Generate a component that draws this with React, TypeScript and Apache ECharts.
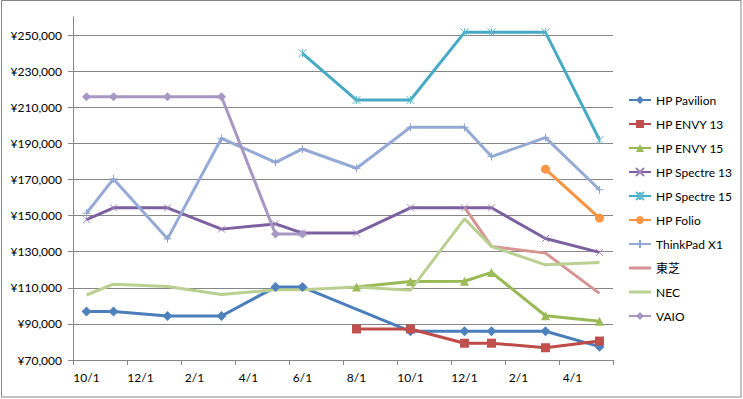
import React, { useEffect, useRef } from "react";
import * as echarts from "echarts";

const months = [
  "10/1", "11/1", "12/1", "1/1", "2/1", "3/1", "4/1", "5/1", "6/1", "7/1",
  "8/1", "9/1", "10/1", "11/1", "12/1", "1/1", "2/1", "3/1", "4/1", "5/1",
];
const yTicks = [70000, 250000, 20000];

const hpPavilion = [96800, 96800, null, 94400, null, 94400, null, 110400, 110400, null, null, null, 85900, null, 85900, 85900, null, 85900, null, 77400];
const hpEnvy13 = [null, null, null, null, null, null, null, null, null, null, 87200, null, 87200, null, 79300, 79300, null, 76800, null, 80500];
const hpEnvy15 = [null, null, null, null, null, null, null, null, null, null, 110500, null, 113500, null, 113600, 118500, null, 94500, null, 91500];
const hpSpectre13 = [147700, 154300, null, 154300, null, 142500, null, 145400, 140300, null, 140300, null, 154300, null, 154300, 154300, null, 137300, null, 129600];
const hpSpectre15 = [null, null, null, null, null, null, null, null, 239900, null, 214000, null, 214000, null, 251500, 251500, null, 251500, null, 191900];
const hpFolio = [null, null, null, null, null, null, null, null, null, null, null, null, null, null, null, null, null, 175700, null, 148600];
const thinkPadX1 = [151300, 170300, null, 137100, null, 192800, null, 179500, 186900, null, 176200, null, 198900, null, 198900, 182700, null, 193200, null, 164300];
const toshiba = [null, null, null, null, null, null, null, null, null, null, null, null, null, null, 154600, 132900, null, 129200, null, 106900];
const nec = [106000, 112000, null, 110700, null, 106300, null, 108900, 108900, null, 110400, null, 108700, null, 148200, 132900, null, 122700, null, 124000];
const vaio = [215800, 215800, null, 215800, null, 215800, null, 139800, 139800, null, null, null, null, null, null, null, null, null, null, null];

const seriesNames = ["HP Pavilion", "HP ENVY 13", "HP ENVY 15", "HP Spectre 13", "HP Spectre 15", "HP Folio", "ThinkPad X1", "東芝", "NEC", "VAIO"];
const seriesData = [hpPavilion, hpEnvy13, hpEnvy15, hpSpectre13, hpSpectre15, hpFolio, thinkPadX1, toshiba, nec, vaio];

const FONT = "Lato, 'Noto Sans CJK JP', sans-serif";
const GRID_COLOR = "#868686";

const X_PATH = "path://M0,0L10,10M10,0L0,10";
const STAR_PATH = "path://M0,0L10,10M10,0L0,10M5,0L5,10";
const PLUS_PATH = "path://M5,0L5,10M0,5L10,5";
const LINE_ICON = "path://M0,0L22,0L22,3L0,3Z";

const styles = [
  { line: "#4A7EBB", marker: "#4F81BD", symbol: "diamond", size: 10, stroke: false },
  { line: "#BE4B48", marker: "#C0504D", symbol: "rect", size: 9, stroke: false },
  { line: "#98B954", marker: "#9BBB59", symbol: "triangle", size: 9, stroke: false },
  { line: "#7D60A0", marker: "#9A84BE", symbol: X_PATH, size: 7, stroke: true },
  { line: "#46AAC5", marker: "#5CB8D0", symbol: STAR_PATH, size: 8, stroke: true },
  { line: "#F69240", marker: "#F79646", symbol: "circle", size: 9, stroke: false },
  { line: "#95AAD5", marker: "#8EA5D1", symbol: PLUS_PATH, size: 8, stroke: true },
  { line: "#D69593", marker: "#D69593", symbol: "none", size: 0, stroke: false },
  { line: "#BAD091", marker: "#BAD091", symbol: "none", size: 0, stroke: false },
  { line: "#A797C3", marker: "#A797C3", symbol: "diamond", size: 9, stroke: false },
];

export default function App() {
  const ref = useRef<HTMLDivElement>(null);
  useEffect(() => {
    if (!ref.current) return;
    const chart = echarts.init(ref.current, null, { renderer: "svg" });
    const series = seriesNames.map((name, i) => {
      const s = styles[i];
      return {
        name,
        type: "line",
        data: seriesData[i],
        connectNulls: true,
        symbol: s.symbol,
        symbolSize: s.size,
        showSymbol: s.symbol !== "none",
        lineStyle: { color: s.line, width: 3 },
        itemStyle: s.stroke
          ? { color: s.marker, borderColor: s.marker, borderWidth: 1 }
          : { color: s.marker, borderWidth: 0 },
        emphasis: { disabled: true },
      };
    });
    const legendData = seriesNames.map((name, i) =>
      styles[i].symbol === "none"
        ? { name, icon: LINE_ICON, itemStyle: { color: styles[i].line } }
        : { name }
    );
    chart.setOption({
      animation: false,
      backgroundColor: "#ffffff",
      textStyle: { fontFamily: FONT },
      grid: { left: 73, right: 130, top: 17, bottom: 39, containLabel: false, outerBoundsMode: "none" },
      xAxis: {
        type: "category",
        data: months,
        boundaryGap: true,
        axisLine: { lineStyle: { color: GRID_COLOR, width: 1 } },
        axisTick: { show: true, interval: 1, length: 5, lineStyle: { color: GRID_COLOR } },
        axisLabel: { interval: 1, color: "#000", fontSize: 12, fontFamily: FONT, margin: 11 },
        splitLine: { show: false },
      },
      yAxis: {
        type: "value",
        min: yTicks[0],
        max: 260000,
        interval: yTicks[2],
        axisLine: { show: true, lineStyle: { color: GRID_COLOR, width: 1 } },
        axisTick: { show: true, length: 5, lineStyle: { color: GRID_COLOR } },
        axisLabel: {
          color: "#000",
          fontSize: 12,
          fontFamily: FONT,
          margin: 11,
          showMaxLabel: false,
          formatter: (v: number) => (v > yTicks[1] ? "" : "¥" + v.toLocaleString("en-US")),
        },
        splitLine: { show: true, showMaxLine: false, lineStyle: { color: GRID_COLOR, width: 1 } },
      },
      legend: {
        orient: "vertical",
        left: 628,
        top: 94,
        padding: 0,
        itemWidth: 22,
        itemHeight: 10,
        itemGap: 12,
        data: legendData,
        textStyle: { color: "#000", fontSize: 12, fontFamily: FONT },
      },
      graphic: [
        {
          type: "rect",
          shape: { x: 1.5, y: 0.5, width: 739.5, height: 396.5 },
          style: { fill: "none", stroke: "#868686", lineWidth: 1 },
          silent: true,
        },
      ],
      series,
    });
    return () => chart.dispose();
  }, []);
  return (
    <div
      ref={ref}
      style={{ position: "fixed", left: 0, top: 0, width: 743, height: 399 }}
    />
  );
}
